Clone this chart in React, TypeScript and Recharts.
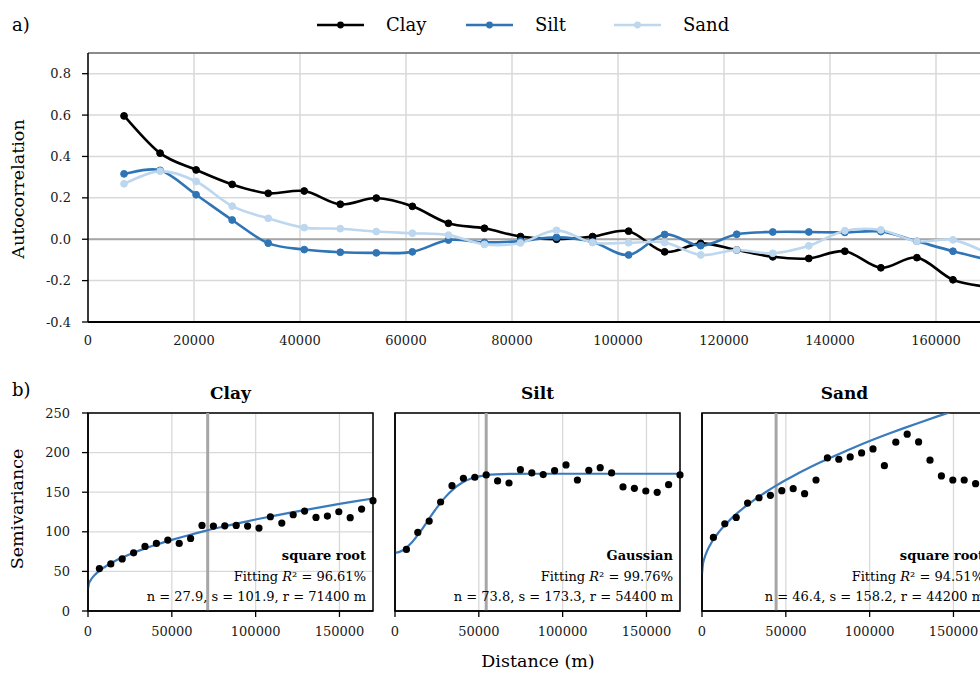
import React from "react";
import {
  LineChart,
  Line,
  ComposedChart,
  Scatter,
  XAxis,
  YAxis,
  CartesianGrid,
  ReferenceLine,
  ReferenceArea,
} from "recharts";

// lag distances (m)
const LAGS = [
  6800, 13600, 20400, 27200, 34000, 40800, 47600, 54400, 61200, 68000, 74800,
  81600, 88400, 95200, 102000, 108800, 115600, 122400, 129200, 136000, 142800,
  149600, 156400, 163200, 170000,
];

// a) autocorrelation
const CLAY_AC = [
  0.596, 0.416, 0.335, 0.265, 0.222, 0.233, 0.169, 0.199, 0.159, 0.077, 0.053,
  0.013, 0.0, 0.013, 0.039, -0.061, -0.02, -0.052, -0.085, -0.093, -0.058,
  -0.138, -0.089, -0.196, -0.232,
];
const SILT_AC = [
  0.316, 0.333, 0.215, 0.093, -0.019, -0.05, -0.063, -0.066, -0.061, -0.004,
  -0.015, -0.009, 0.009, -0.013, -0.076, 0.023, -0.031, 0.024, 0.035, 0.035,
  0.033, 0.037, -0.01, -0.058, -0.1,
];
const SAND_AC = [
  0.268, 0.329, 0.279, 0.16, 0.101, 0.056, 0.051, 0.037, 0.029, 0.02, -0.025,
  -0.018, 0.043, -0.016, -0.017, -0.016, -0.076, -0.052, -0.068, -0.032, 0.041,
  0.045, -0.01, -0.003, -0.07,
];

const SERIES = [
  { key: "clay", name: "Clay", color: "#000000", values: CLAY_AC },
  { key: "silt", name: "Silt", color: "#2f75b5", values: SILT_AC },
  { key: "sand", name: "Sand", color: "#bdd7ee", values: SAND_AC },
];

const AC_TICKS = [-0.4, -0.2, 0, 0.2, 0.4, 0.6, 0.8];
const DIST_TICKS = [0, 20000, 40000, 60000, 80000, 100000, 120000, 140000, 160000];

// b) semivariance
const CLAY_SV = [
  53.6, 59.5, 65.8, 73.4, 81.5, 85.3, 89.5, 85.3, 91.6, 108.1, 107.2, 107.6,
  108.1, 107.2, 104.7, 119.0, 111.0, 121.5, 126.2, 118.2, 119.9, 125.3, 117.8,
  128.7, 139.3,
];
const SILT_SV = [
  77.7, 99.2, 113.5, 137.6, 158.2, 167.6, 168.9, 171.8, 164.2, 161.6, 178.5,
  174.3, 172.2, 177.2, 184.4, 165.4, 177.7, 181.0, 174.3, 156.6, 154.9, 151.5,
  149.9, 159.5, 171.8,
];
const SAND_SV = [
  92.9, 110.1, 118.2, 136.3, 143.0, 146.1, 151.9, 154.4, 148.1, 165.4, 193.3,
  191.6, 194.6, 199.6, 204.7, 183.5, 213.2, 223.3, 213.5, 190.4, 170.5, 165.4,
  165.4, 160.8, 158.0,
];

// fitted model curves, read at these distances
const CURVE_H = [
  0, 500, 1500, 3000, 6000, 10000, 15000, 20000, 25000, 30000, 35000, 40000,
  45000, 50000, 55000, 60000, 70000, 80000, 90000, 100000, 110000, 120000,
  130000, 140000, 150000, 160000, 170000,
];
const CLAY_FIT = [
  27.9, 34.1, 38.6, 43.1, 49.4, 55.6, 61.8, 67.1, 71.7, 75.9, 79.7, 83.3, 86.6,
  89.8, 92.8, 95.7, 101.2, 106.2, 111.0, 115.5, 119.7, 123.8, 127.7, 131.5,
  135.2, 138.7, 142.1,
];
const SILT_FIT = [
  73.8, 73.8, 74.1, 75.0, 78.5, 86.4, 99.9, 115.4, 130.6, 143.8, 154.3, 161.9,
  166.9, 169.9, 171.6, 172.5, 173.2, 173.3, 173.3, 173.3, 173.3, 173.3, 173.3,
  173.3, 173.3, 173.3, 173.3,
];
const SAND_FIT = [
  46.4, 58.3, 67.0, 75.5, 87.6, 99.6, 111.5, 121.6, 130.5, 138.5, 145.9, 152.8,
  159.2, 165.3, 171.1, 176.7, 187.1, 196.8, 205.9, 214.6, 222.8, 230.6, 238.1,
  245.4, 252.4, 259.1, 265.7,
];

const PANEL_NAMES = ["Clay", "Silt", "Sand"];
const MODEL_NAMES = ["square root", "Gaussian", "square root"];
const FIT_R2 = ["96.61%", "99.76%", "94.51%"];
const NUGGET = ["27.9", "73.8", "46.4"];
const SILL = ["101.9", "173.3", "158.2"];
const RANGE = [71400, 54400, 44200];
const PANEL_SV = [CLAY_SV, SILT_SV, SAND_SV];
const PANEL_FIT = [CLAY_FIT, SILT_FIT, SAND_FIT];

const SV_TICKS = [0, 50, 100, 150, 200, 250];
const SV_DIST_TICKS = [0, 50000, 100000, 150000];

const FONT = "'DejaVu Serif', serif";
const FIT_COLOR = "#3b7bbd";
const GRID = "#d9d9d9";

const acRows = LAGS.map((h, i) => ({
  h,
  clay: CLAY_AC[i],
  silt: SILT_AC[i],
  sand: SAND_AC[i],
}));

// excel-like smoothed line (catmull-rom through the points)
function smoothCurve(context: any) {
  let pts: number[][] = [];
  return {
    areaStart() {},
    areaEnd() {},
    lineStart() {
      pts = [];
    },
    point(x: number, y: number) {
      pts.push([+x, +y]);
    },
    lineEnd() {
      const n = pts.length;
      if (!n) return;
      context.moveTo(pts[0][0], pts[0][1]);
      for (let i = 0; i < n - 1; i++) {
        const p0 = pts[Math.max(i - 1, 0)];
        const p1 = pts[i];
        const p2 = pts[i + 1];
        const p3 = pts[Math.min(i + 2, n - 1)];
        context.bezierCurveTo(
          p1[0] + (p2[0] - p0[0]) / 6,
          p1[1] + (p2[1] - p0[1]) / 6,
          p2[0] - (p3[0] - p1[0]) / 6,
          p2[1] - (p3[1] - p1[1]) / 6,
          p2[0],
          p2[1]
        );
      }
    },
  };
}

const tickStyle = { fontSize: 13, fill: "#1a1a1a", fontFamily: FONT };

function Dot(props: any) {
  const { cx, cy } = props;
  if (cx == null || cy == null) return null;
  return <circle cx={cx} cy={cy} r={3.6} fill="#000" />;
}

function SemivariancePanel({ index }: { index: number }) {
  const points = LAGS.map((h, i) => ({ h, v: PANEL_SV[index][i] }));
  const curve = CURVE_H.map((h, i) => ({ h, v: PANEL_FIT[index][i] }));
  const first = index === 0;

  return (
    <ComposedChart
      width={355}
      height={251}
      margin={{ top: 13, right: 10, left: 0, bottom: 0 }}
    >
      <CartesianGrid stroke={GRID} strokeWidth={1.3} />
      <XAxis
        type="number"
        dataKey="h"
        domain={[0, 170000]}
        ticks={SV_DIST_TICKS}
        height={40}
        tick={tickStyle}
        tickSize={6}
        tickMargin={10}
        tickLine={{ stroke: "#000", strokeWidth: 1.3 }}
        axisLine={{ stroke: "#000", strokeWidth: 1.5 }}
      />
      <YAxis
        type="number"
        dataKey="v"
        domain={[0, 250]}
        ticks={SV_TICKS}
        allowDataOverflow
        width={60}
        tick={first ? tickStyle : false}
        tickSize={6}
        tickMargin={12}
        tickLine={{ stroke: "#000", strokeWidth: 1.3 }}
        axisLine={{ stroke: "#000", strokeWidth: 1.5 }}
      />
      <ReferenceArea
        x1={0}
        x2={170000}
        y1={0}
        y2={250}
        fill="none"
        fillOpacity={0}
        stroke="#000"
        strokeWidth={1.5}
      />
      <ReferenceLine x={RANGE[index]} stroke="#a6a6a6" strokeWidth={3} />
      <Line
        data={curve}
        dataKey="v"
        type="monotone"
        stroke={FIT_COLOR}
        strokeWidth={2.2}
        dot={false}
        isAnimationActive={false}
      />
      <Scatter
        data={points}
        dataKey="v"
        fill="#000"
        shape={<Dot />}
        isAnimationActive={false}
      />
    </ComposedChart>
  );
}

const PANEL_LEFT = [28, 335, 642];
const PLOT_RIGHT = [373, 680, 987];
const TEXT_RIGHT = [366, 673, 984];

export default function App() {
  return (
    <div
      style={{
        position: "fixed",
        left: 0,
        top: 0,
        width: 980,
        height: 680,
        overflow: "hidden",
        background: "#fff",
        fontFamily: FONT,
      }}
    >
      {/* a) autocorrelation */}
      <div style={{ position: "absolute", left: 0, top: 0 }}>
        <LineChart
          width={1000}
          height={350}
          data={acRows}
          margin={{ top: 53, right: 11, left: 40, bottom: 0 }}
        >
          <CartesianGrid stroke={GRID} strokeWidth={1.5} />
          <XAxis
            type="number"
            dataKey="h"
            domain={[0, 170000]}
            ticks={DIST_TICKS}
            height={28}
            tick={tickStyle}
            tickLine={false}
            tickSize={6}
            tickMargin={8}
            axisLine={{ stroke: "#000", strokeWidth: 2 }}
          />
          <YAxis
            type="number"
            domain={[-0.4, 0.9]}
            ticks={AC_TICKS}
            width={48}
            tick={tickStyle}
            tickFormatter={(v: number) => v.toFixed(1)}
            tickSize={6}
            tickMargin={11}
            tickLine={{ stroke: "#000", strokeWidth: 1.3 }}
            axisLine={{ stroke: "#000", strokeWidth: 1.5 }}
          />
          <ReferenceLine y={0.9} stroke="#6e6e6e" strokeWidth={1.3} />
          <ReferenceLine y={0} stroke="#a6a6a6" strokeWidth={2} />
          {SERIES.map((s) => (
            <Line
              key={s.key}
              dataKey={s.key}
              name={s.name}
              type={smoothCurve as any}
              stroke={s.color}
              strokeWidth={2.6}
              dot={{ r: 3.4, fill: s.color, stroke: s.color, strokeWidth: 1 }}
              isAnimationActive={false}
            />
          ))}
        </LineChart>
      </div>

      {/* b) semivariograms */}
      {PANEL_NAMES.map((_, i) => (
        <div
          key={i}
          style={{ position: "absolute", left: PANEL_LEFT[i], top: 400 }}
        >
          <SemivariancePanel index={i} />
        </div>
      ))}

      {/* labels */}
      <svg
        width={980}
        height={680}
        style={{ position: "absolute", left: 0, top: 0, pointerEvents: "none" }}
        fontFamily={FONT}
      >
        <text x={12} y={31} fontSize={18} fill="#000">
          a)
        </text>
        <text x={12} y={396} fontSize={18} fill="#000">
          b)
        </text>

        {SERIES.map((s, i) => {
          const x = [317, 466, 614][i];
          return (
            <g key={s.key}>
              <line
                x1={x}
                x2={x + 47}
                y1={25}
                y2={25}
                stroke={s.color}
                strokeWidth={2.6}
              />
              <circle cx={x + 23.5} cy={25} r={3.4} fill={s.color} />
              <text x={x + 69} y={31} fontSize={18} fill="#000">
                {s.name}
              </text>
            </g>
          );
        })}

        <text
          transform="translate(24, 189) rotate(-90)"
          textAnchor="middle"
          fontSize={17.5}
          fill="#000"
        >
          Autocorrelation
        </text>
        <text
          transform="translate(23, 509) rotate(-90)"
          textAnchor="middle"
          fontSize={17.5}
          fill="#000"
        >
          Semivariance
        </text>
        <text x={538} y={667} textAnchor="middle" fontSize={17.5} fill="#000">
          Distance (m)
        </text>

        {PANEL_NAMES.map((name, i) => {
          const left = PANEL_LEFT[i] + 60;
          const right = PLOT_RIGHT[i];
          const tx = TEXT_RIGHT[i];
          return (
            <g key={name}>
              <text
                x={(left + right) / 2}
                y={399}
                textAnchor="middle"
                fontSize={17}
                fontWeight="bold"
                fill="#000"
              >
                {name}
              </text>
              <text
                x={tx}
                y={560}
                textAnchor="end"
                fontSize={13}
                fontWeight="bold"
                fill="#000"
              >
                {MODEL_NAMES[i]}
              </text>
              <text x={tx} y={581} textAnchor="end" fontSize={13} fill="#000">
                Fitting <tspan fontStyle="italic">R</tspan>² = {FIT_R2[i]}
              </text>
              <text x={tx} y={601} textAnchor="end" fontSize={13} fill="#000">
                n = {NUGGET[i]}, s = {SILL[i]}, r = {RANGE[i]} m
              </text>
            </g>
          );
        })}
      </svg>
    </div>
  );
}
